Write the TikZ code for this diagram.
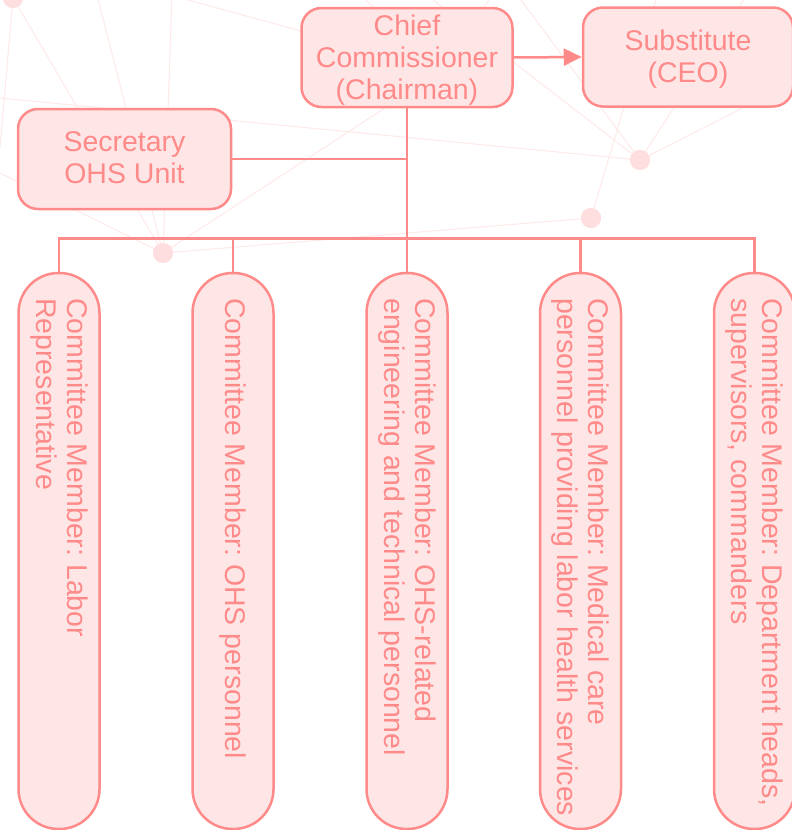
\documentclass[tikz,border=0pt]{standalone}
\usepackage{fontspec}
\setmainfont{Liberation Sans}
\usetikzlibrary{arrows.meta}
\frenchspacing
\definecolor{strokec}{RGB}{255,138,138}
\definecolor{fillc}{RGB}{255,230,230}
\definecolor{bgline}{RGB}{255,234,234}
\definecolor{dotc}{RGB}{255,222,224}
\newcommand{\boxlines}[2]{\raisebox{#1}[\height][\depth]{\begin{tabular}{@{}c@{}}#2\end{tabular}}}
\tikzset{
  box/.style={draw=strokec, fill=fillc, line width=2.5pt, rounded corners=20pt,
    text=strokec, inner sep=0pt,
    font=\fontsize{28.5}{32}\selectfont},
  member/.style={draw=strokec, fill=fillc, line width=2.5pt, rounded corners=40pt,
    minimum width=81pt, minimum height=556pt, inner sep=0pt},
  membertext/.style={rotate=-90, anchor=west, align=left, inner sep=0pt,
    text=strokec, font=\fontsize{28.5}{31}\selectfont},
  conn/.style={draw=strokec, line width=2.5pt},
  bg/.style={draw=bgline, line width=1.1pt},
  dot/.style={circle, fill=dotc, minimum size=20pt, inner sep=0pt}
}
\begin{document}
\begin{tikzpicture}[x=1pt, y=-1pt]
\useasboundingbox (0,0) rectangle (792,830);
% background network
\node[dot] (d1) at (13,-2) {};
\node[dot] (d2) at (163,253) {};
\node[dot] (d3) at (640,160) {};
\node[dot] (d4) at (591,218) {};
\coordinate (h) at (443,70);
\coordinate (e1) at (0,147);
\coordinate (e2) at (97,-5);
\coordinate (e3) at (172,-5);
\coordinate (e4) at (0,98);
\coordinate (e5) at (0,173);
\coordinate (e6) at (170,-5);
\coordinate (e7) at (360,-5);
\coordinate (e8) at (492,-5);
\coordinate (e9) at (428,-4);
\coordinate (e10) at (518,-4);
\coordinate (e11) at (746,-4);
\coordinate (e12) at (800,79);
\coordinate (e13) at (657,-4);
\draw[bg] (d1.center) -- (d2.center);
\draw[bg] (d1.center) -- (e1);
\draw[bg] (e2) -- (d2.center);
\draw[bg] (e3) -- (d2.center);
\draw[bg] (e4) -- (d3.center);
\draw[bg] (e5) -- (d2.center);
\draw[bg] (d2.center) -- (d4.center);
\draw[bg] (d2.center) -- (h);
\draw[bg] (e6) -- (h);
\draw[bg] (e7) -- (h);
\draw[bg] (e8) -- (h);
\draw[bg] (d3.center) -- (e9);
\draw[bg] (d3.center) -- (e10);
\draw[bg] (d3.center) -- (e11);
\draw[bg] (d3.center) -- (e12);
\draw[bg] (d4.center) -- (e13);
\node[dot] at (d1) {};
\node[dot] at (d2) {};
\node[dot] at (d3) {};
\node[dot] at (d4) {};
% main boxes
\node[box, minimum width=211pt, minimum height=99pt] (chief) at (407,57.5) {\boxlines{-4pt}{Chief\\Commissioner\\(Chairman)}};
\node[box, minimum width=210pt, minimum height=99pt] (subst) at (688,57) {\boxlines{-3pt}{Substitute\\(CEO)}};
\node[box, minimum width=213pt, minimum height=100pt] (sec) at (124.5,159) {\boxlines{-2.5pt}{Secretary\\OHS Unit}};
% committee members
\node[member] (c1) at (59,551) {};
\node[member] (c2) at (233,551) {};
\node[member] (c3) at (407,551) {};
\node[member] (c4) at (580.5,551) {};
\node[member] (c5) at (754.5,551) {};
\node[membertext] (t1) at (59,298) {Committee Member: Labor\\Representative};
\node[membertext] (t2) at (233,298) {Committee Member: OHS personnel};
\node[membertext] (t3) at (407,298) {Committee Member: OHS-related\\engineering and technical personnel};
\node[membertext] (t4) at (580.5,298) {Committee Member: Medical care\\personnel providing labor health services};
\node[membertext] (t5) at (754.5,298) {Committee Member: Department heads,\\supervisors, commanders};
% connectors
\coordinate (bus) at (407,238.5);
\draw[conn, -{Triangle[length=18pt,width=17pt]}] (chief.east) -- (subst.west);
\draw[conn] (chief.south) -- (c3.north);
\draw[conn] (sec.east) -- (sec.east -| chief.south);
\draw[conn] (c1.north) -- (c1.north |- bus) -- (c5.north |- bus) -- (c5.north);
\draw[conn] (c2.north) -- (c2.north |- bus);
\draw[conn] (c4.north) -- (c4.north |- bus);
\end{tikzpicture}
\end{document}
